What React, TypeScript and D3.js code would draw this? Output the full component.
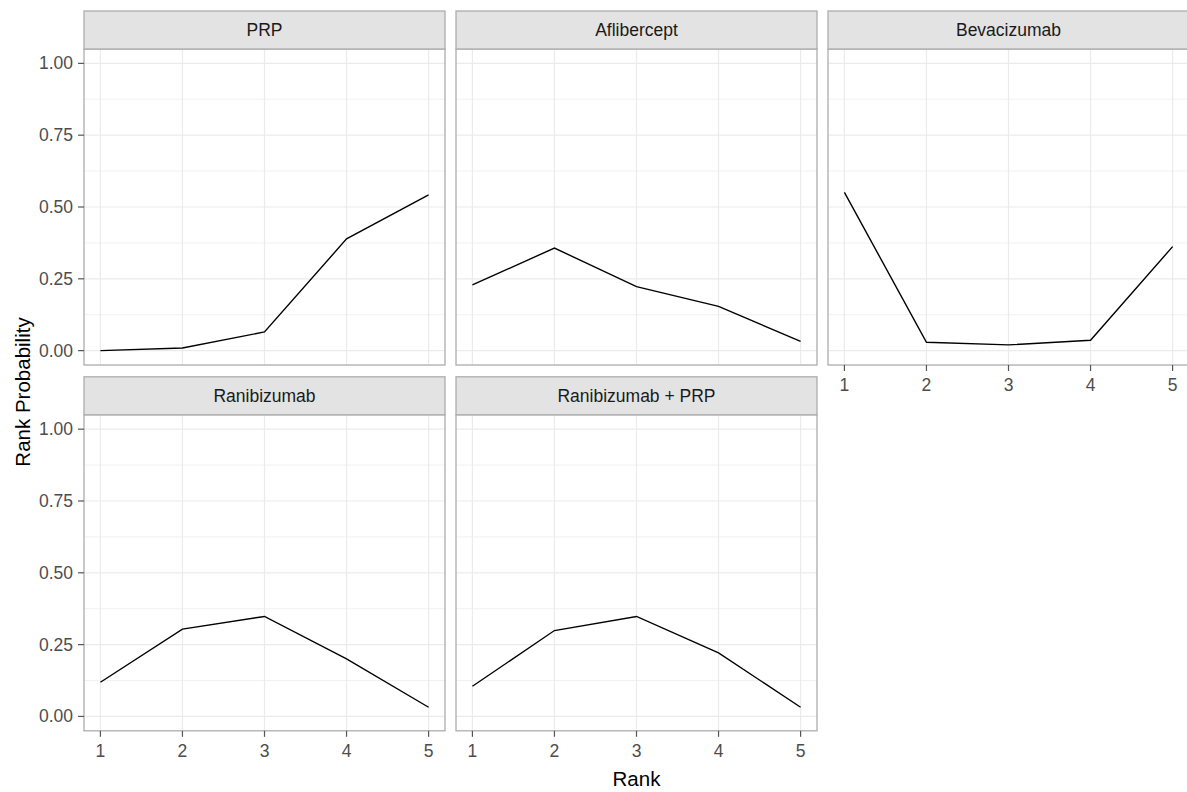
import React, { useEffect } from "react";
import { scaleLinear, line } from "d3";

// facet titles, in facet_wrap order
const treatments = ["PRP", "Aflibercept", "Bevacizumab", "Ranibizumab", "Ranibizumab + PRP"];
const ranks = [1, 2, 3, 4, 5];

// rank probabilities
const prpValues = [0.0, 0.009, 0.065, 0.389, 0.542];
const afliberceptValues = [0.229, 0.357, 0.223, 0.154, 0.032];
const bevacizumabValues = [0.551, 0.029, 0.02, 0.036, 0.362];
const ranibizumabValues = [0.119, 0.304, 0.348, 0.2, 0.032];
const ranibizumabPrpValues = [0.105, 0.299, 0.348, 0.221, 0.032];

const yTicks = [0, 0.25, 0.5, 0.75, 1];
const yMinor = [0.125, 0.375, 0.625, 0.875];
const yTickLabels = ["0.00", "0.25", "0.50", "0.75", "1.00"];

const series = [prpValues, afliberceptValues, bevacizumabValues, ranibizumabValues, ranibizumabPrpValues];

const W = 1187;
const H = 792;
const FONT = "'Liberation Sans', Arial, sans-serif";

const left0 = 84;
const panelW = 361;
const colGap = 11;
const top0 = 11;
const stripH = 38;
const facetH = 354;
const rowGap = 11.8;
const nCols = 3;

const grid = "#EBEBEB";
const border = "#ADADAD";

function Panel({ idx }) {
  const col = idx % nCols;
  const row = Math.floor(idx / nCols);
  const x0 = left0 + col * (panelW + colGap);
  const stripTop = top0 + row * (facetH + rowGap);
  const bodyTop = stripTop + stripH;
  const bodyBottom = stripTop + facetH;

  const x = scaleLinear().domain([0.8, 5.2]).range([x0, x0 + panelW]);
  const y = scaleLinear().domain([-0.05, 1.05]).range([bodyBottom, bodyTop]);

  const pts = ranks.map((r, i) => [r, series[idx][i]]);
  const path = line()
    .x(d => x(d[0]))
    .y(d => y(d[1]))(pts);

  // x axis labels where nothing sits below the panel
  const showX = idx + nCols >= treatments.length;
  const showY = col === 0;

  return (
    <g>
      <rect x={x0} y={bodyTop} width={panelW} height={bodyBottom - bodyTop} fill="#fff" />
      {yMinor.map(t => (
        <line key={"m" + t} x1={x0} x2={x0 + panelW} y1={y(t)} y2={y(t)} stroke={grid} strokeWidth={0.7} />
      ))}
      {yTicks.map(t => (
        <line key={"g" + t} x1={x0} x2={x0 + panelW} y1={y(t)} y2={y(t)} stroke={grid} strokeWidth={1.2} />
      ))}
      {ranks.map(r => (
        <line key={"v" + r} x1={x(r)} x2={x(r)} y1={bodyTop} y2={bodyBottom} stroke={grid} strokeWidth={1.2} />
      ))}
      <path d={path} fill="none" stroke="#000" strokeWidth={1.4} />
      <rect x={x0} y={bodyTop} width={panelW} height={bodyBottom - bodyTop} fill="none" stroke={border} strokeWidth={1.3} />
      <rect x={x0} y={stripTop} width={panelW} height={stripH} fill="#E3E3E3" stroke={border} strokeWidth={1.3} />
      <text x={x0 + panelW / 2} y={stripTop + stripH / 2} textAnchor="middle" dominantBaseline="central"
        fontSize={17.5} fill="#1A1A1A" fontFamily={FONT}>
        {treatments[idx]}
      </text>
      {showY && yTicks.map((t, i) => (
        <g key={"yt" + t}>
          <line x1={x0 - 6} x2={x0} y1={y(t)} y2={y(t)} stroke="#555" strokeWidth={1.2} />
          <text x={x0 - 11} y={y(t)} textAnchor="end" dominantBaseline="central" fontSize={17.5} fill="#4D4D4D" fontFamily={FONT}>
            {yTickLabels[i]}
          </text>
        </g>
      ))}
      {showX && ranks.map(r => (
        <g key={"xt" + r}>
          <line x1={x(r)} x2={x(r)} y1={bodyBottom} y2={bodyBottom + 6} stroke="#555" strokeWidth={1.2} />
          <text x={x(r)} y={bodyBottom + 20} textAnchor="middle" dominantBaseline="central" fontSize={17.5} fill="#4D4D4D" fontFamily={FONT}>
            {r}
          </text>
        </g>
      ))}
    </g>
  );
}

export default function App() {
  useEffect(() => {
    document.body.style.margin = "0";
  }, []);

  return (
    <svg width={W} height={H} style={{ display: "block" }}>
      <rect width={W} height={H} fill="#fff" />
      {treatments.map((t, i) => (
        <Panel key={t} idx={i} />
      ))}
      <text x={left0 + (3 * panelW + 2 * colGap) / 2} y={778} textAnchor="middle" dominantBaseline="central"
        fontSize={20.5} fill="#000" fontFamily={FONT}>
        Rank
      </text>
      <text transform={`translate(22,392) rotate(-90)`} textAnchor="middle" dominantBaseline="central"
        fontSize={20.5} fill="#000" fontFamily={FONT}>
        Rank Probability
      </text>
    </svg>
  );
}
